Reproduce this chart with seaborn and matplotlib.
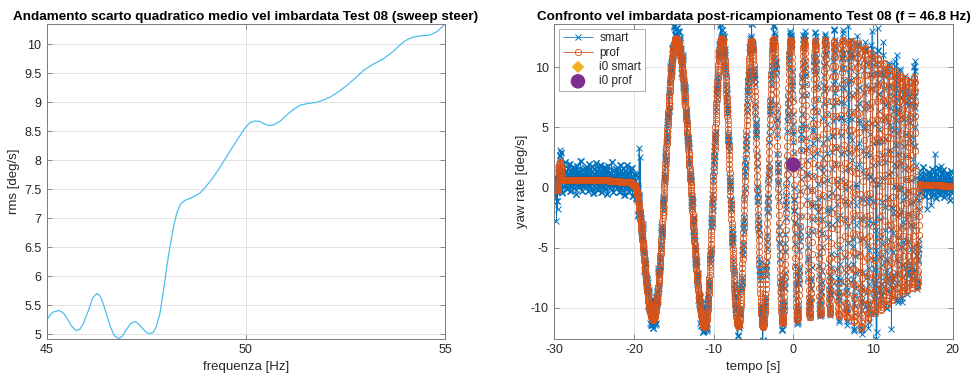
import numpy as np
import pandas as pd
import matplotlib
matplotlib.use("Agg")
import matplotlib.pyplot as plt
import seaborn as sns

# ---------------- data: left panel (rms vs frequency) ----------------
freq = [45.0, 45.08, 45.15, 45.31, 45.42, 45.5, 45.62, 45.73, 45.82, 45.9, 46.05,
        46.15, 46.25, 46.33, 46.4, 46.5, 46.6, 46.7, 46.81, 46.9, 47.0, 47.1, 47.21,
        47.3, 47.4, 47.5, 47.59, 47.67, 47.75, 47.84, 47.95, 48.02, 48.09, 48.18,
        48.26, 48.35, 48.47, 48.65, 48.84, 49.0, 49.18, 49.35, 49.51, 49.77, 49.97,
        50.1, 50.23, 50.35, 50.45, 50.58, 50.69, 50.85, 51.02, 51.2, 51.36, 51.55,
        51.78, 51.95, 52.11, 52.3, 52.53, 52.75, 52.95, 53.2, 53.45, 53.7, 53.95,
        54.1, 54.29, 54.45, 54.62, 54.8, 55.0]
rms = [5.25, 5.33, 5.38, 5.41, 5.36, 5.28, 5.14, 5.06, 5.08, 5.16, 5.42,
       5.62, 5.70, 5.67, 5.56, 5.34, 5.12, 4.97, 4.92, 4.97, 5.08, 5.18, 5.22,
       5.18, 5.10, 5.03, 5.01, 5.03, 5.13, 5.36, 5.85, 6.20, 6.50, 6.85,
       7.08, 7.24, 7.31, 7.36, 7.43, 7.55, 7.71, 7.88, 8.06, 8.34, 8.55,
       8.65, 8.68, 8.67, 8.63, 8.60, 8.61, 8.67, 8.78, 8.88, 8.95, 8.98,
       9.00, 9.04, 9.09, 9.17, 9.29, 9.42, 9.55, 9.66, 9.75, 9.88, 10.04,
       10.10, 10.14, 10.15, 10.16, 10.22, 10.35]

# ---------------- data: right panel (yaw rate key points) ----------------
knot_t = [-30.0, -29.6, -29.3, -29.0, -24.0, -20.5, -20.0, -17.6, -14.7, -11.1, -9.0,
          -6.9, -5.25, -3.8, -2.45, -1.35, -0.35, 0.5, 1.35, 2.07, 2.75, 3.4, 4.0,
          4.6, 5.15, 5.7, 6.2, 6.7, 7.2, 7.65, 8.1, 8.55, 9.0, 9.4, 9.8, 10.2, 10.6,
          11.0, 11.35, 11.7, 12.05, 12.4, 12.75, 13.1, 13.4, 13.7, 14.0, 14.3, 14.6,
          14.9, 15.2, 15.55, 15.9, 16.1, 20.0]
knot_v = [-0.25, -0.2, 2.1, 0.65, 0.6, 0.45, 0.2, -11.0, 12.4, -11.6, 12.4,
          -11.5, 12.2, -11.6, 12.4, -11.3, 12.3, -11.0, 12.3, -10.8, 12.2, -10.6, 12.3,
          -10.5, 12.2, -10.7, 12.3, -10.9, 12.2, -11.2, 12.0, -11.7, 11.6, -11.0, 11.2,
          -10.5, 10.8, -10.2, 10.4, -9.8, 10.0, -9.4, 9.7, -9.1, 9.4, -8.8, 9.1, -8.6, 8.8,
          -8.4, 9.2, -8.3, 0.3, 0.2, 0.15]
smart_noise = [0.3, -0.6, 1.1, -0.2, 0.8, -1.1, 0.4, 1.4, -0.7, 0.1, -0.9, 0.6, 1.2,
               -0.4, 0.2, -1.3, 0.9, -0.1, 0.5, -0.8, 1.5, -0.5, 0.0, 0.7, -1.0, 0.3,
               1.0, -0.3, -0.6, 1.3, 0.2, -1.2, 0.6, -0.2, 0.9, -0.7, 0.4, 1.1, -0.9,
               0.1, -0.4, 0.8, -1.4, 0.5, 1.2, -0.1, 0.3, -0.8, 0.7, -0.5, 0.0, 1.6,
               -0.3, 0.4, -1.1, 0.2, 0.9, -0.6, 0.3, -0.2, 1.0]
spike_t = [-29.75, -29.6, -19.35, -19.2, 6.9, 8.6, 9.9, 10.4, 10.5, 10.6, 11.3,
           12.3, 13.0, 15.3, 16.8, 17.3, 17.8, 18.5]
spike_v = [-2.8, -1.8, 3.3, 2.5, 13.4, -12.2, 13.0, -12.6, -12.0, 13.3, 12.1,
           -11.8, 11.0, 10.5, -1.8, -1.5, 2.8, 1.8]
i0_t = [0.0]
i0_smart = [2.15]
i0_prof = [1.9]
fs = 46.8

# ---------------- build sampled series ----------------
t = np.arange(-30.0, 20.0 + 1e-9, 1.0 / fs)
kt = np.array(knot_t)
kv = np.array(knot_v)
idx = np.clip(np.searchsorted(kt, t, side="right") - 1, 0, len(kt) - 2)
s = np.clip((t - kt[idx]) / (kt[idx + 1] - kt[idx]), 0, 1)
prof = kv[idx] + (kv[idx + 1] - kv[idx]) * (1 - np.cos(np.pi * s)) / 2
nz = np.array(smart_noise)
nz_idx = (np.arange(len(t)) // 3) % len(nz)
smart = prof + nz[nz_idx] * 0.9 + 0.1
for st, sv in zip(spike_t, spike_v):
    smart[np.argmin(np.abs(t - st))] = sv

df_l = pd.DataFrame({"freq": freq, "rms": rms})
df_r = pd.DataFrame({"t": t, "smart": smart, "prof": prof})

# ---------------- style ----------------
sns.set_style("white")
plt.rcParams["font.family"] = ["Liberation Sans", "DejaVu Sans"]
plt.rcParams["axes.unicode_minus"] = False
TXT = "#262626"
SP = "#7a7a7a"

fig = plt.figure(figsize=(9.76, 3.82), dpi=100)
axL = fig.add_axes([0.048, 0.113, 0.408, 0.824])
axR = fig.add_axes([0.568, 0.113, 0.408, 0.824])


def style(ax):
    for sp in ax.spines.values():
        sp.set_color(SP)
        sp.set_linewidth(0.7)
    ax.grid(True, color="#e3e3e3", linewidth=0.7)
    ax.set_axisbelow(True)
    ax.tick_params(direction="in", length=3.5, width=0.6, color=SP,
                   labelsize=9, labelcolor=TXT, top=True, right=True,
                   bottom=True, left=True, pad=4)


# left
sns.lineplot(data=df_l, x="freq", y="rms", ax=axL, color="#4DBEEE", linewidth=0.9)
axL.set_xlim(45, 55)
axL.set_ylim(4.92, 10.35)
axL.set_xticks([45, 50, 55])
axL.set_yticks([5, 5.5, 6, 6.5, 7, 7.5, 8, 8.5, 9, 9.5, 10])
axL.set_yticklabels(["5", "5.5", "6", "6.5", "7", "7.5", "8", "8.5", "9", "9.5", "10"])
style(axL)
axL.set_xlabel("frequenza [Hz]", fontsize=9.5, color=TXT, labelpad=3)
axL.set_ylabel("rms [deg/s]", fontsize=9.5, color=TXT, labelpad=3)
axL.set_title("Andamento scarto quadratico medio vel imbardata Test 08 (sweep steer)",
              fontsize=9.7, fontweight="bold", color="black", pad=3)

# right
sns.lineplot(data=df_r, x="t", y="smart", ax=axR, color="#0072BD", linewidth=0.5,
             marker="x", markersize=4, markeredgewidth=0.7, markeredgecolor="#0072BD",
             estimator=None, sort=False, label="smart")
sns.lineplot(data=df_r, x="t", y="prof", ax=axR, color="#D95319", linewidth=0.6,
             marker="o", markersize=4.5, markerfacecolor="none", markeredgewidth=0.6,
             markeredgecolor="#D95319", estimator=None, sort=False, label="prof")
sns.scatterplot(x=i0_t, y=i0_smart, ax=axR, marker="D", s=40, color="#EDB120",
                edgecolor="none", label="i0 smart", zorder=5)
sns.scatterplot(x=i0_t, y=i0_prof, ax=axR, marker="o", s=110, color="#7E2F8E",
                edgecolor="none", label="i0 prof", zorder=6)
axR.set_xlim(-30, 20)
axR.set_ylim(-12.6, 13.6)
axR.set_xticks([-30, -20, -10, 0, 10, 20])
axR.set_yticks([-10, -5, 0, 5, 10])
style(axR)
axR.set_xlabel("tempo [s]", fontsize=9.5, color=TXT, labelpad=3)
axR.set_ylabel("yaw rate [deg/s]", fontsize=9.5, color=TXT, labelpad=2)
axR.set_title("Confronto vel imbardata post-ricampionamento Test 08 (f = 46.8 Hz)",
              fontsize=9.7, fontweight="bold", color="black", pad=3)
leg = axR.legend(loc="upper left", fontsize=8.5, frameon=True, fancybox=False,
                 borderpad=0.3, labelspacing=0.2, handlelength=2.6,
                 handletextpad=0.5, borderaxespad=0.4)
leg.get_frame().set_edgecolor("#8a8a8a")
leg.get_frame().set_linewidth(0.6)
for txt in leg.get_texts():
    txt.set_color(TXT)

fig.savefig("out.png", dpi=100)
